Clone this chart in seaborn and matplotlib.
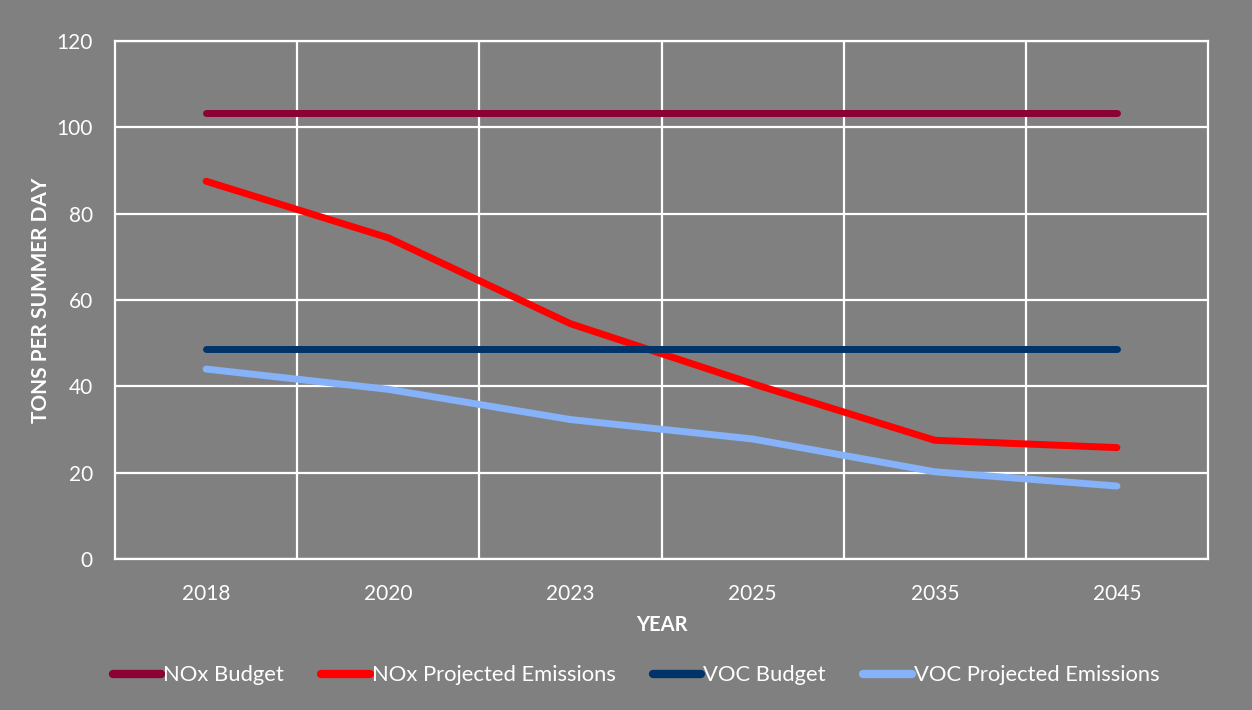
import pandas as pd
import matplotlib.pyplot as plt
import seaborn as sns

years = ["2018", "2020", "2023", "2025", "2035", "2045"]
nox_budget = [103.3, 103.3, 103.3, 103.3, 103.3, 103.3]
nox_projected = [87.5, 74.4, 54.5, 40.6, 27.5, 25.8]
voc_budget = [48.7, 48.7, 48.7, 48.7, 48.7, 48.7]
voc_projected = [44.0, 39.3, 32.3, 27.8, 20.2, 16.9]

series_names = ["NOx Budget", "NOx Projected Emissions", "VOC Budget", "VOC Projected Emissions"]
colors = ["#8C0034", "#FF0000", "#00336A", "#85B2F8"]

df = pd.DataFrame({
    "Year": years,
    "NOx Budget": nox_budget,
    "NOx Projected Emissions": nox_projected,
    "VOC Budget": voc_budget,
    "VOC Projected Emissions": voc_projected,
})
long_df = df.melt(id_vars="Year", var_name="Series", value_name="Tons")

sns.set_style("white")
plt.rcParams["font.family"] = ["Lato", "DejaVu Sans"]

bg = "#808080"
fig = plt.figure(figsize=(12.52, 7.10), dpi=100, facecolor=bg)
ax = fig.add_axes([0.0919, 0.2127, 0.873, 0.7296])
ax.set_facecolor(bg)

sns.lineplot(data=long_df, x="Year", y="Tons", hue="Series", hue_order=series_names,
             palette=colors, linewidth=5, solid_capstyle="round", sort=False, ax=ax)

ax.set_xlim(-0.5, 5.5)
ax.set_ylim(0, 120)
ax.set_yticks(range(0, 121, 20))
ax.set_xticks(range(len(years)))
ax.set_xticklabels(years)
ax.set_xticks([i + 0.5 for i in range(len(years) - 1)], minor=True)
ax.grid(True, axis="y", which="major", color="white", linewidth=1.6)
ax.grid(True, axis="x", which="minor", color="white", linewidth=1.6)
ax.grid(False, axis="x", which="major")
ax.set_axisbelow(True)
for s in ax.spines.values():
    s.set_color("white")
    s.set_linewidth(1.6)
ax.tick_params(axis="both", which="both", length=0, colors="white", labelsize=15)
ax.tick_params(axis="y", pad=16)
ax.tick_params(axis="x", pad=18)

ax.set_xlabel("YEAR", color="white", fontsize=14.5, fontweight="bold", labelpad=8)
ax.set_ylabel("TONS PER SUMMER DAY", color="white", fontsize=15, fontweight="bold", labelpad=4)

handles, labels = ax.get_legend_handles_labels()
ax.get_legend().remove()
leg = fig.legend(handles, labels, loc="center", bbox_to_anchor=(0.508, 0.049), ncol=4,
                 frameon=False, fontsize=15.8, handlelength=2.2, handletextpad=0.1,
                 columnspacing=1.7)
for t in leg.get_texts():
    t.set_color("white")
for line in leg.get_lines():
    line.set_linewidth(6)
    line.set_solid_capstyle("round")

fig.savefig("out.png", dpi=100, facecolor=bg)
